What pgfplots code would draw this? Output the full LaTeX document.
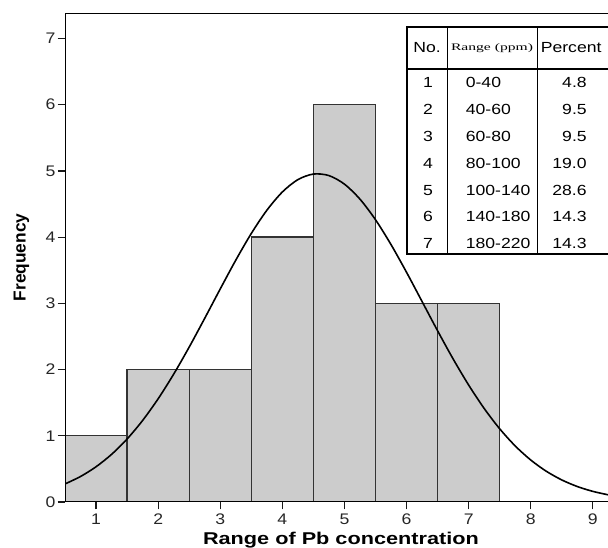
\documentclass[border=0pt]{standalone}
\usepackage{pgfplots}
\pgfplotsset{compat=1.18}
\usepackage{fontspec}
\setmainfont{Liberation Sans}
\newfontfamily\tinyserif{Liberation Serif}
\definecolor{barfill}{HTML}{CCCCCC}
\definecolor{baredge}{HTML}{333333}

\begin{document}
\begin{tikzpicture}
\useasboundingbox (0,0) rectangle (456pt,411pt);
\clip (0,0) rectangle (456pt,411pt);
\begin{axis}[
  at={(48.75pt,34.5pt)}, anchor=south west,
  scale only axis, width=409.9pt, height=366.5pt,
  xmin=0.5, xmax=9.3, ymin=0, ymax=7.38,
  axis line style={draw=none},
  tick pos=left, tick align=outside,
  major tick length=5.5pt,
  every tick/.style={black!90, line width=0.9pt},
  xtick={1,...,9}, ytick={0,...,7},
  /pgf/number format/assume math mode=true,
  ticklabel style={font=\fontsize{11.5}{13}\selectfont, xscale=1.15, text=black!85},
  yticklabel style={inner sep=1.2pt},
  clip=true,
]
\addplot[ybar interval, fill=barfill, draw=baredge, line width=1pt]
  coordinates {(0.5,1) (1.5,2) (2.5,2) (3.5,4) (4.5,6) (5.5,3) (6.5,3) (7.5,0)};
\addplot[smooth, black, line width=1.2pt] coordinates {
  (0.5,0.2726) (0.75,0.3851) (1.0,0.5321) (1.25,0.7194) (1.5,0.9515)
  (1.75,1.2313) (2.0,1.5591) (2.25,1.9310) (2.5,2.3401) (2.75,2.7747)
  (3.0,3.2183) (3.25,3.6524) (3.5,4.0557) (3.75,4.4054) (4.0,4.6820)
  (4.25,4.8686) (4.5,4.9526) (4.75,4.9293) (5.0,4.7999) (5.25,4.5727)
  (5.5,4.2623) (5.75,3.8865) (6.0,3.4677) (6.25,3.0265) (6.5,2.5846)
  (6.75,2.1593) (7.0,1.7653) (7.25,1.4117) (7.5,1.1045) (7.75,0.8456)
  (8.0,0.6333) (8.25,0.4640) (8.5,0.3326) (8.75,0.2332) (9.0,0.1600)
  (9.25,0.1074) (9.3,0.0990)};
\draw[black, line width=1.4pt] (axis cs:0.5,7.38) -- (axis cs:0.5,0) -- (axis cs:9.3,0);
\draw[black, line width=1.4pt] (axis cs:0.5,7.38) -- (axis cs:9.3,7.38);
\end{axis}
\begin{scope}[x=0.75pt, y=-0.75pt, shift={(0pt,411pt)}]
  % inset table
  \fill[white] (406.7,27.3) rectangle (620,254);
  \draw[line width=0.8pt] (447.2,27.3) -- (447.2,254);
  \draw[line width=0.8pt] (537.5,27.3) -- (537.5,254);
  \draw[line width=1.3pt] (406.7,69) -- (620,69);
  \draw[line width=1.5pt] (620,27.3) -- (406.7,27.3) -- (406.7,254) -- (620,254);
  \begin{scope}[every node/.style={font=\fontsize{11}{13}\selectfont, xscale=1.2, inner sep=0pt}]
    \node[anchor=base] at (427,53) {No.};
    \node[anchor=base west] at (540.5,53) {Percent};
    \node[anchor=base, font=\tinyserif\fontsize{7.5}{9}\selectfont, xscale=1.3] at (492,51) {Range (ppm)};
    \foreach \n/\r/\p [count=\i from 0] in {1/0-40/4.8, 2/40-60/9.5, 3/60-80/9.5, 4/80-100/19.0, 5/100-140/28.6, 6/140-180/14.3, 7/180-220/14.3} {
      \node[anchor=base] at (428,88+26.8*\i) {\n};
      \node[anchor=base west] at (465.5,88+26.8*\i) {\r};
      \node[anchor=base east] at (587,88+26.8*\i) {\p};
    }
  \end{scope}
  % axis titles
  \node[anchor=base west, font=\bfseries\fontsize{12.8}{15}\selectfont, xscale=1.27, inner sep=0pt] at (202.7,545) {Range of Pb concentration};
  \node[anchor=base, rotate=90, font=\bfseries\fontsize{13}{15}\selectfont, inner sep=0pt] at (25.5,257.5) {Frequency};
\end{scope}
\end{tikzpicture}
\end{document}
